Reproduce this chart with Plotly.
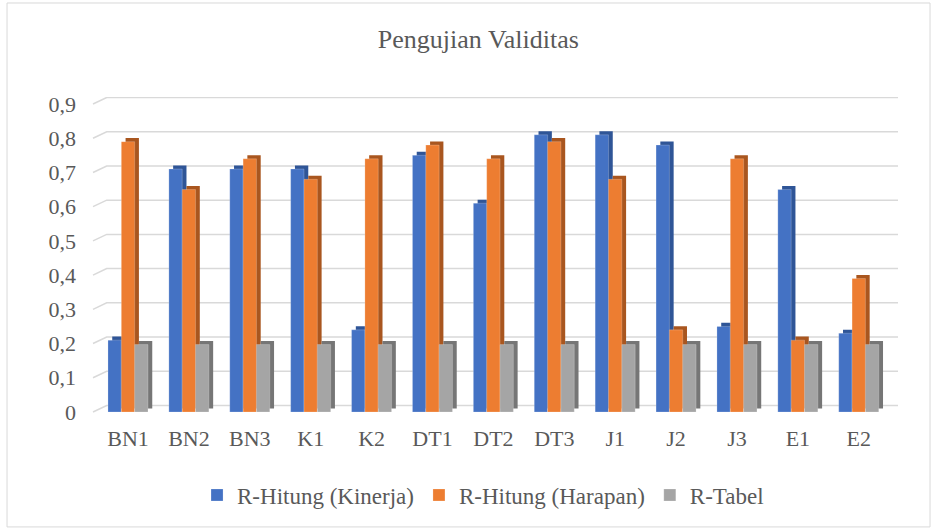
import plotly.graph_objects as go

categories = ["BN1", "BN2", "BN3", "K1", "K2", "DT1", "DT2", "DT3", "J1", "J2", "J3", "E1", "E2"]
r_kinerja = [0.21, 0.71, 0.71, 0.71, 0.24, 0.75, 0.61, 0.81, 0.81, 0.78, 0.25, 0.65, 0.23]
r_harapan = [0.79, 0.65, 0.74, 0.68, 0.74, 0.78, 0.74, 0.79, 0.68, 0.24, 0.74, 0.21, 0.39]
r_tabel = [0.197, 0.197, 0.197, 0.197, 0.197, 0.197, 0.197, 0.197, 0.197, 0.197, 0.197, 0.197, 0.197]
series_names = ["R-Hitung (Kinerja)", "R-Hitung (Harapan)", "R-Tabel"]
y_ticks = [0, 0.1, 0.2, 0.3, 0.4, 0.5, 0.6, 0.7, 0.8, 0.9]
y_tick_labels = ["0", "0,1", "0,2", "0,3", "0,4", "0,5", "0,6", "0,7", "0,8", "0,9"]

front_colors = ["#4472C4", "#ED7D31", "#A5A5A5"]
side_colors = ["#2F5597", "#A9561F", "#767676"]
bar_w = 0.219
offsets = [-0.329, -0.11, 0.109]
dx = 0.07     # depth offset (category units)
dy = 0.0105   # depth offset (value units)
grid_dy = 0.019

series = [r_kinerja, r_harapan, r_tabel]
FONT = "Liberation Serif, Times New Roman, serif"
TXT = "#595959"

fig = go.Figure()
# depth faces (side / top)
for vals, off, col in zip(series, offsets, side_colors):
    fig.add_trace(go.Bar(x=categories, y=vals, base=dy, offset=off + dx, width=bar_w,
                         marker=dict(color=col, line=dict(width=0)),
                         showlegend=False, hoverinfo="skip"))
# front faces
for vals, off, col, name in zip(series, offsets, front_colors, series_names):
    fig.add_trace(go.Bar(x=categories, y=vals, offset=off, width=bar_w, name=name,
                         marker=dict(color=col, line=dict(width=0.6, color="rgba(255,255,255,0.35)"))))

shapes = []
for t in y_ticks:
    shapes.append(dict(type="path", xref="paper", yref="y", layer="below",
                       path=f"M 0,{t} L 0.017,{t + grid_dy} L 1,{t + grid_dy}",
                       line=dict(color="#d9d9d9", width=1.5)))
# chart frame
shapes.append(dict(type="rect", xref="paper", yref="paper", layer="below",
                   x0=-0.1068, x1=1.0398, y0=-0.352, y1=1.2956,
                   line=dict(color="#d9d9d9", width=1)))

fig.update_layout(
    width=938, height=530,
    barmode="overlay",
    paper_bgcolor="white", plot_bgcolor="white",
    margin=dict(l=93, r=40, t=97, b=115, autoexpand=False),
    title=dict(text="Pengujian Validitas", x=0.51, xanchor="center",
               y=0.926, yanchor="middle", yref="container",
               font=dict(family=FONT, size=26, color=TXT)),
    xaxis=dict(range=[-0.575, 12.644], showgrid=False, zeroline=False, showline=False,
               ticks="", tickfont=dict(family=FONT, size=22, color=TXT), tickangle=0,
               ticklabelstandoff=8, fixedrange=True),
    yaxis=dict(range=[-0.0088, 0.9205], tickvals=y_ticks, ticktext=y_tick_labels,
               showgrid=False, zeroline=False, showline=False, ticks="",
               tickfont=dict(family=FONT, size=22, color=TXT),
               ticklabelstandoff=16, fixedrange=True),
    legend=dict(orientation="h", x=0.4845, xanchor="center",
                y=-0.2516, yanchor="middle", itemwidth=30,
                font=dict(family=FONT, size=23, color=TXT), traceorder="normal"),
    shapes=shapes,
    showlegend=True,
)

fig.write_html("out.html", config={"displayModeBar": False},
               post_script="document.body.style.margin='0';document.body.style.overflow='hidden';")
